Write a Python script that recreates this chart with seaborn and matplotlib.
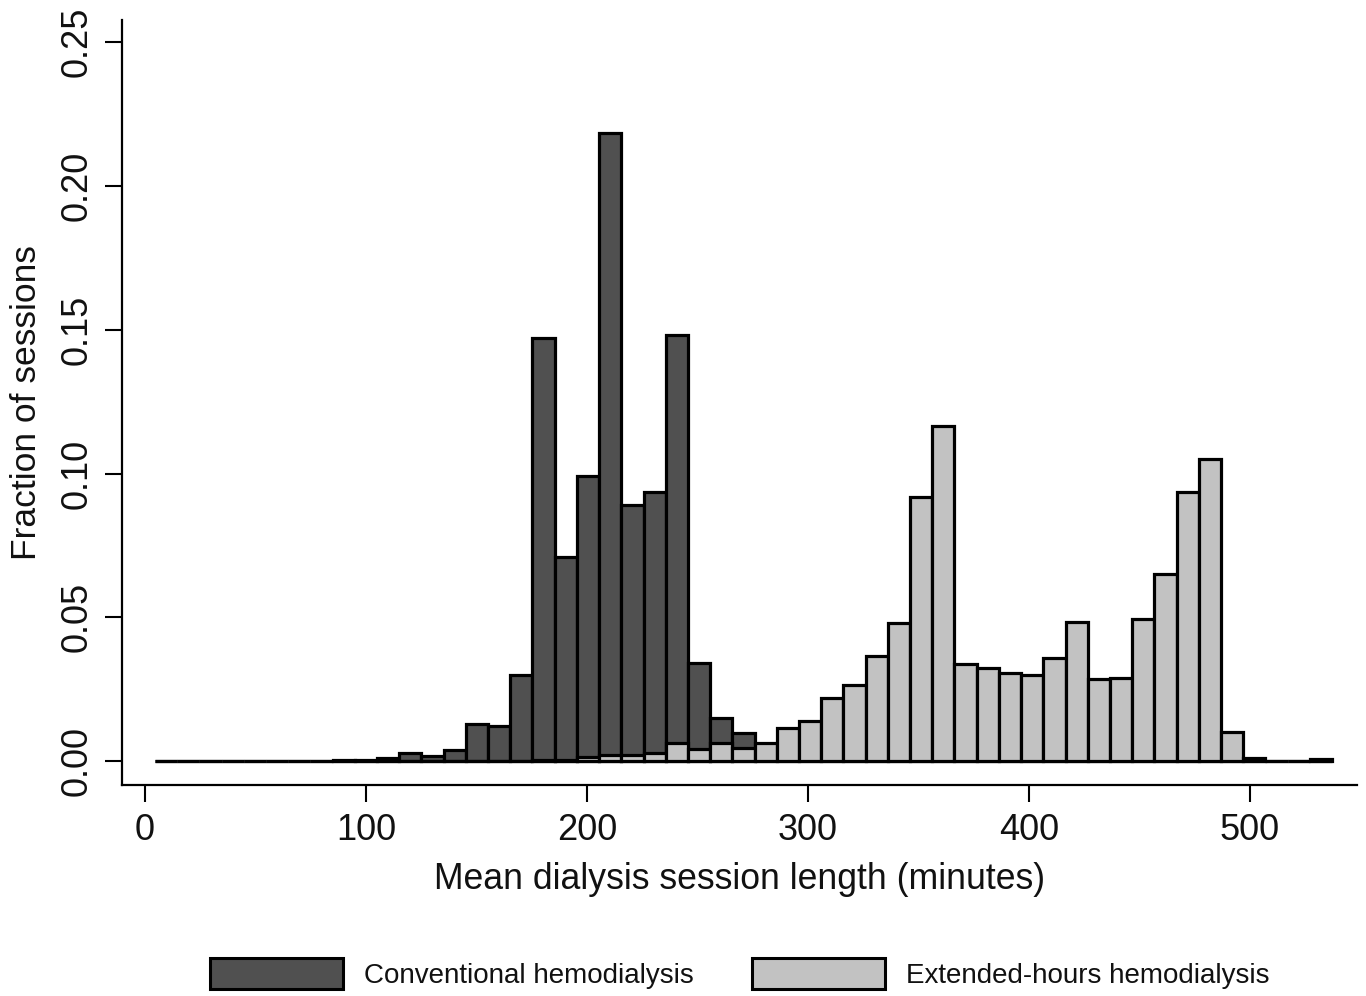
import numpy as np
import pandas as pd
import seaborn as sns
import matplotlib.pyplot as plt
from matplotlib.patches import Patch

# Bin centres (minutes), bin width ~10
bin_centers = list(range(10, 540, 10))

conventional = [0, 0, 0, 0, 0, 0, 0, 0,            # 10-80
                0.0003, 0.0005, 0.0010, 0.0028,     # 90-120
                0.0018, 0.0040, 0.0128, 0.0123,     # 130-160
                0.0300, 0.1470, 0.0710, 0.0990,     # 170-200
                0.2185, 0.0890, 0.0935, 0.1480,     # 210-240
                0.0340, 0.0150, 0.0097, 0,          # 250-280
                0, 0, 0, 0, 0, 0, 0, 0, 0, 0,       # 290-380
                0, 0, 0, 0, 0, 0, 0, 0, 0, 0,       # 390-480
                0, 0, 0, 0, 0]                      # 490-530

extended = [0, 0, 0, 0, 0, 0, 0, 0, 0,              # 10-90
            0, 0, 0, 0, 0, 0, 0, 0,                 # 100-170
            0.0003, 0.0005, 0.0013, 0.0021,         # 180-210
            0.0023, 0.0029, 0.0062, 0.0042,         # 220-250
            0.0062, 0.0046, 0.0064, 0.0114,         # 260-290
            0.0140, 0.0220, 0.0265, 0.0365,         # 300-330
            0.0480, 0.0920, 0.1165, 0.0336,         # 340-370
            0.0325, 0.0305, 0.0300, 0.0357,         # 380-410
            0.0484, 0.0285, 0.0290, 0.0493,         # 420-450
            0.0650, 0.0936, 0.1052, 0.0100,         # 460-490
            0.0010, 0, 0, 0.0008]                   # 500-530

series_labels = ["Conventional hemodialysis", "Extended-hours hemodialysis"]
y_ticks = [0.0, 0.05, 0.10, 0.15, 0.20, 0.25]
x_ticks = [0, 100, 200, 300, 400, 500]

df = pd.DataFrame({"length": bin_centers, "conv": conventional, "ext": extended})

sns.set_style("white")
plt.rcParams['font.family'] = ['Liberation Sans', 'DejaVu Sans']

dark = "#505050"
light = "#c2c2c2"

fig = plt.figure(figsize=(13.66, 9.96), dpi=100)
ax = fig.add_axes([122 / 1366, 1 - 785 / 996, (1357 - 122) / 1366, (785 - 20) / 996])

sns.histplot(data=df, x="length", weights="conv", bins=53, binrange=(4.5, 537.1),
             stat="count", color=dark, alpha=1, edgecolor="black", linewidth=2.3, ax=ax)
sns.histplot(data=df, x="length", weights="ext", bins=53, binrange=(4.5, 537.1),
             stat="count", color=light, alpha=1, edgecolor="black", linewidth=2.3, ax=ax)

ax.set_xlim(-10.4, 548.4)
ax.set_ylim(-0.0083, 0.2577)
ax.set_xticks(x_ticks)
ax.set_yticks(y_ticks)
ax.set_yticklabels([f"{t:.2f}" for t in y_ticks], rotation=90, va="center")
ax.tick_params(axis="both", direction="out", length=12, width=1.5, labelsize=26,
               left=True, bottom=True, color="black", labelcolor="#111111")
ax.tick_params(axis="y", pad=8)
ax.tick_params(axis="x", pad=8)

for side in ["top", "right"]:
    ax.spines[side].set_visible(False)
for side in ["left", "bottom"]:
    ax.spines[side].set_color("black")
    ax.spines[side].set_linewidth(1.6)

ax.set_xlabel("Mean dialysis session length (minutes)", fontsize=25.7, color="#111111", labelpad=10)
ax.set_ylabel("Fraction of sessions", fontsize=25.5, color="#111111", labelpad=12)

handles = [Patch(facecolor=dark, edgecolor="black", linewidth=2.2),
           Patch(facecolor=light, edgecolor="black", linewidth=2.2)]
fig.legend(handles, series_labels, loc="lower center", ncol=2, frameon=False,
           bbox_to_anchor=(739.5 / 1366, -0.004), fontsize=20,
           handlelength=4.8, handleheight=1.35, handletextpad=0.75,
           columnspacing=2.1, borderaxespad=0.0, labelcolor="#111111")

fig.savefig("out.png", dpi=100)
